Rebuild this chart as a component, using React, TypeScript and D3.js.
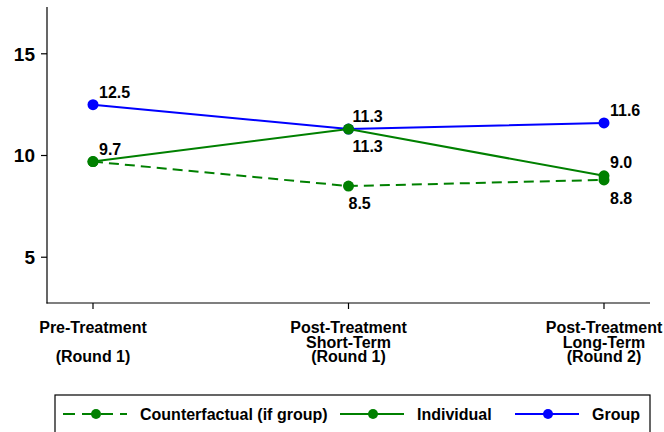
import React from "react";
import * as d3 from "d3";

const categories: string[][] = [
  ["Pre-Treatment", "", "(Round 1)"],
  ["Post-Treatment", "Short-Term", "(Round 1)"],
  ["Post-Treatment", "Long-Term", "(Round 2)"],
];
const groupValues = [12.5, 11.3, 11.6];
const individualValues = [9.7, 11.3, 9.0];
const counterfactualValues = [9.7, 8.5, 8.8];
const yTicks = [5, 10, 15];

const BLUE = "#0000ff";
const GREEN = "#008000";
const FONT = "'Liberation Sans', Arial, sans-serif";

export default function App() {
  const x = d3.scaleLinear().domain([0, 2]).range([93, 604]);
  const y = d3.scaleLinear().domain([2.75, 17.3]).range([303, 7]);
  const line = d3
    .line<number>()
    .x((_, i) => x(i))
    .y((d) => y(d));

  const groupLab = [
    { dx: 6, dy: -7 },
    { dx: 4, dy: -7 },
    { dx: 6, dy: -7 },
  ];
  const indivLab = [
    { dx: 6, dy: -7 },
    { dx: 4, dy: 23 },
    { dx: 6, dy: -8 },
  ];
  const cfLab = [null, { dx: 0, dy: 23 }, { dx: 6, dy: 24 }];

  const series = [
    { vals: groupValues, color: BLUE, dash: undefined, labs: groupLab },
    { vals: individualValues, color: GREEN, dash: undefined, labs: indivLab },
    { vals: counterfactualValues, color: GREEN, dash: "10,6", labs: cfLab },
  ];

  const legend = [
    { label: "Counterfactual (if group)", color: GREEN, dash: "12,7", x0: 63 },
    { label: "Individual", color: GREEN, dash: undefined, x0: 340 },
    { label: "Group", color: BLUE, dash: undefined, x0: 515 },
  ];

  return (
    <div style={{ position: "absolute", left: 0, top: 0 }}>
      <svg width={664} height={432} style={{ display: "block", background: "#fff" }}>
        <rect x={0} y={0} width={664} height={432} fill="#fff" />
        <line x1={47} x2={47} y1={7} y2={303.5} stroke="#000" strokeWidth={1.2} />
        <line x1={46.5} x2={650} y1={303} y2={303} stroke="#000" strokeWidth={1.2} />
        {yTicks.map((t) => (
          <g key={t}>
            <line x1={41} x2={47} y1={y(t)} y2={y(t)} stroke="#000" strokeWidth={1.2} />
            <text
              x={35}
              y={y(t)}
              dy="0.36em"
              textAnchor="end"
              fontFamily={FONT}
              fontWeight="bold"
              fontSize={19}
              fill="#000"
            >
              {t}
            </text>
          </g>
        ))}
        {categories.map((lines, i) => (
          <g key={i}>
            <line x1={x(i)} x2={x(i)} y1={303} y2={309} stroke="#000" strokeWidth={1.2} />
            {lines.map((l, j) => (
              <text
                key={j}
                x={x(i)}
                y={333 + j * 14.5}
                textAnchor="middle"
                fontFamily={FONT}
                fontWeight="bold"
                fontSize={16}
                fill="#000"
              >
                {l}
              </text>
            ))}
          </g>
        ))}
        {series.map((s, si) => (
          <g key={si}>
            <path
              d={line(s.vals) || ""}
              fill="none"
              stroke={s.color}
              strokeWidth={2}
              strokeDasharray={s.dash}
            />
            {s.vals.map((v, i) => (
              <circle key={i} cx={x(i)} cy={y(v)} r={5.5} fill={s.color} />
            ))}
          </g>
        ))}
        {series.map((s, si) =>
          s.vals.map((v, i) => {
            const lab = s.labs[i];
            if (!lab) return null;
            return (
              <text
                key={`${si}-${i}`}
                x={x(i) + lab.dx}
                y={y(v) + lab.dy}
                fontFamily={FONT}
                fontWeight="bold"
                fontSize={16}
                fill="#000"
              >
                {v.toFixed(1)}
              </text>
            );
          })
        )}
        <rect x={55} y={395} width={595} height={60} fill="#fff" stroke="#000" strokeWidth={1.2} />
        {legend.map((l) => (
          <g key={l.label}>
            <line
              x1={l.x0}
              x2={l.x0 + 64}
              y1={414}
              y2={414}
              stroke={l.color}
              strokeWidth={2}
              strokeDasharray={l.dash}
            />
            <circle cx={l.x0 + 33} cy={414} r={5} fill={l.color} />
            <text
              x={l.x0 + 77}
              y={420}
              fontFamily={FONT}
              fontWeight="bold"
              fontSize={16}
              fill="#000"
            >
              {l.label}
            </text>
          </g>
        ))}
      </svg>
    </div>
  );
}
